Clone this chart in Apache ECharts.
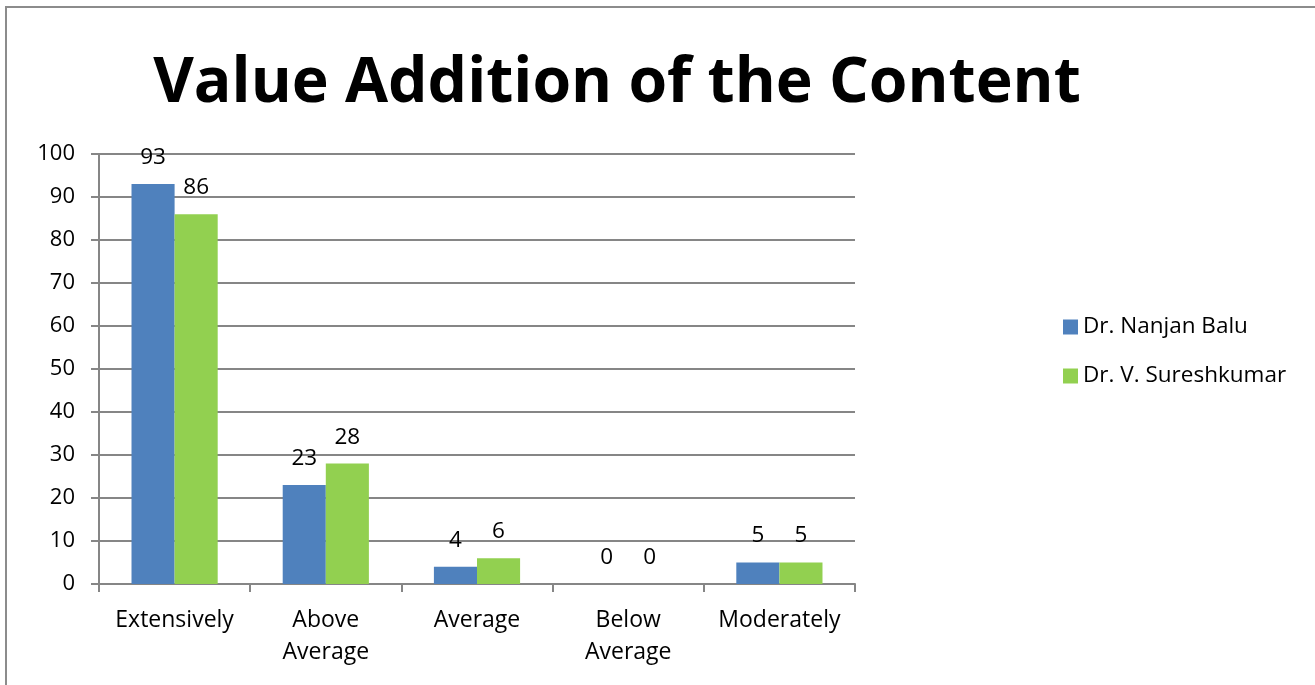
<!DOCTYPE html>
<html><head><meta charset="utf-8">
<script src="https://cdn.jsdelivr.net/npm/echarts@6/dist/echarts.min.js"></script>
<style>
html,body{margin:0;padding:0;background:#fff;}
#frame{position:absolute;left:5px;top:6px;width:1400px;height:800px;border-left:2px solid #8c8c8c;border-top:2px solid #8c8c8c;box-sizing:border-box;}
#c{position:absolute;left:0;top:0;width:1315px;height:685px;}
</style></head>
<body>
<div id="frame"></div>
<div id="c"></div>
<script>
const categories = ['Extensively', 'Above\nAverage', 'Average', 'Below\nAverage', 'Moderately'];
const seriesNames = ['Dr. Nanjan Balu', 'Dr. V. Sureshkumar'];
const balu = [93, 23, 4, 0, 5];
const suresh = [86, 28, 6, 0, 5];
const yTicks = {min: 0, max: 100, interval: 10};
const colors = ['#4f81bd', '#92d050'];

const chart = echarts.init(document.getElementById('c'));
const font = '"Open Sans", sans-serif';
const labelStyle = {show: true, position: 'top', distance: 15, color: '#000', fontSize: 22.5, fontFamily: font};
chart.setOption({
  animation: false,
  title: {
    text: 'Value Addition of the Content', left: 612, top: 48, textAlign: 'center',
    textStyle: {fontSize: 62.5, fontWeight: 'bold', color: '#000', fontFamily: font}
  },
  legend: {
    orient: 'vertical', left: 1058, top: 309, itemGap: 23,
    itemWidth: 15, itemHeight: 15, icon: 'rect',
    textStyle: {fontSize: 22.5, lineHeight: 26, color: '#000', fontFamily: font, padding: [0, 0, 0, 0]},
    data: seriesNames
  },
  grid: {left: 99, top: 154, width: 756, height: 430, containLabel: false},
  xAxis: {
    type: 'category', data: categories,
    axisLine: {lineStyle: {color: '#868686', width: 2}},
    axisTick: {show: true, length: 8, lineStyle: {color: '#868686', width: 2}},
    axisLabel: {interval: 0, hideOverlap: false, color: '#000', fontSize: 23, fontFamily: font, margin: 20, lineHeight: 32}
  },
  yAxis: {
    type: 'value', min: yTicks.min, max: yTicks.max, interval: yTicks.interval,
    axisLine: {show: true, lineStyle: {color: '#868686', width: 2}},
    axisTick: {show: true, length: 8, lineStyle: {color: '#868686', width: 2}},
    splitLine: {lineStyle: {color: '#868686', width: 2}},
    axisLabel: {color: '#000', fontSize: 22, fontFamily: font, margin: 24}
  },
  series: [
    {name: seriesNames[0], type: 'bar', data: balu, barGap: '0%', barCategoryGap: '43%',
     itemStyle: {color: colors[0]}, label: labelStyle},
    {name: seriesNames[1], type: 'bar', data: suresh, barGap: '0%', barCategoryGap: '43%',
     itemStyle: {color: colors[1]}, label: labelStyle}
  ]
});
</script>
</body></html>
